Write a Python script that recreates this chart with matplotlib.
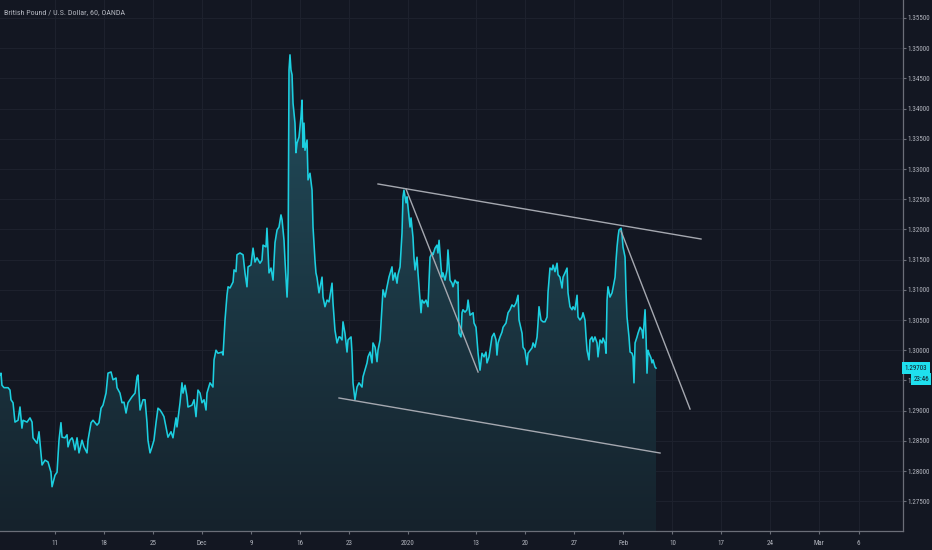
import numpy as np
import matplotlib.pyplot as plt
from matplotlib import font_manager
from matplotlib.colors import LinearSegmentedColormap
from matplotlib.ticker import FormatStrFormatter

# hourly GBPUSD (OANDA) closes
# t = trading days since the first bar on screen (weekends removed)
t = [
    0.00, 0.10, 0.20, 0.41, 0.82, 1.02, 1.12, 1.33, 1.53, 1.84,
    2.04, 2.24, 2.35, 2.76, 3.06, 3.27, 3.37, 3.78, 3.98, 4.18,
    4.29, 4.59, 4.90, 5.20, 5.31, 5.61, 5.82, 6.02, 6.22, 6.33,
    6.63, 6.84, 6.94, 7.14, 7.35, 7.45, 7.65, 7.86, 8.06, 8.37,
    8.57, 8.88, 8.98, 9.29, 9.49, 9.90, 10.10, 10.31, 10.51, 10.82,
    11.02, 11.33, 11.53, 11.84, 11.94, 12.24, 12.45, 12.65, 12.86, 13.06,
    13.47, 13.78, 13.98, 14.08, 14.29, 14.59, 14.80, 15.00, 15.10, 15.31,
    15.51, 15.71, 15.92, 16.12, 16.33, 16.53, 16.73, 16.94, 17.14, 17.45,
    17.65, 17.96, 18.06, 18.37, 18.57, 18.67, 18.88, 19.08, 19.18, 19.59,
    19.80, 20.00, 20.20, 20.41, 20.61, 20.82, 21.02, 21.12, 21.43, 21.73,
    21.84, 22.04, 22.24, 22.65, 22.76, 22.96, 23.16, 23.27, 23.47, 23.78,
    23.88, 24.08, 24.18, 24.49, 24.80, 25.00, 25.20, 25.31, 25.61, 25.82,
    26.02, 26.22, 26.53, 26.73, 26.84, 27.14, 27.24, 27.45, 27.65, 27.86,
    28.06, 28.27, 28.47, 28.67, 28.78, 28.98, 29.08, 29.29, 29.39, 29.49,
    29.59, 29.69, 29.80, 29.90, 30.10, 30.20, 30.31, 30.51, 30.71, 30.82,
    30.92, 31.02, 31.12, 31.33, 31.43, 31.63, 31.84, 31.94, 32.14, 32.24,
    32.35, 32.55, 32.86, 32.96, 33.16, 33.37, 33.57, 33.88, 33.98, 34.18,
    34.39, 34.59, 34.69, 34.90, 35.00, 35.20, 35.41, 35.51, 35.82, 35.92,
    36.02, 36.22, 36.43, 36.63, 36.94, 37.04, 37.24, 37.45, 37.55, 37.76,
    37.96, 38.06, 38.27, 38.47, 38.57, 38.78, 38.98, 39.08, 39.29, 39.49,
    39.69, 40.00, 40.10, 40.31, 40.51, 40.61, 40.82, 41.02, 41.12, 41.22,
    41.43, 41.53, 41.73, 41.84, 41.94, 42.14, 42.24, 42.35, 42.55, 42.65,
    42.86, 42.96, 43.06, 43.27, 43.47, 43.67, 43.88, 44.08, 44.18, 44.39,
    44.59, 44.69, 44.80, 45.00, 45.10, 45.20, 45.41, 45.61, 45.71, 45.92,
    46.12, 46.22, 46.43, 46.63, 46.73, 46.84, 47.04, 47.14, 47.24, 47.45,
    47.65, 47.76, 47.96, 48.27, 48.37, 48.57, 48.78, 48.98, 49.18, 49.39,
    49.59, 49.69, 49.90, 50.20, 50.41, 50.61, 50.71, 50.82, 51.02, 51.22,
    51.33, 51.63, 51.84, 52.04, 52.24, 52.45, 52.65, 52.86, 52.96, 53.27,
    53.37, 53.57, 53.78, 53.88, 54.29, 54.39, 54.59, 54.80, 54.90, 55.00,
    55.20, 55.41, 55.61, 55.82, 55.92, 56.12, 56.33, 56.43, 56.63, 56.84,
    56.94, 57.14, 57.35, 57.45, 57.65, 57.86, 57.96, 58.16, 58.37, 58.47,
    58.67, 58.88, 58.98, 59.18, 59.39, 59.49, 59.69, 59.80, 59.90, 60.10,
    60.20, 60.41, 60.51, 60.71, 60.92, 61.02, 61.22, 61.43, 61.53, 61.73,
    61.84, 61.94, 62.04, 62.24, 62.45, 62.55, 62.76, 62.86, 62.96, 63.06,
    63.16, 63.37, 63.47, 63.57, 63.78, 63.88, 63.98, 64.18, 64.29, 64.49,
    64.59, 64.69, 64.80, 65.00, 65.10, 65.31, 65.51, 65.61, 65.82, 65.92,
    66.02, 66.12, 66.22, 66.43, 66.53, 66.63, 66.84, 66.94,
]

close = [
    1.2959, 1.2962, 1.2942, 1.2938, 1.2938, 1.2934, 1.2918, 1.2913, 1.2881, 1.2884,
    1.2906, 1.2871, 1.2884, 1.2881, 1.2888, 1.2881, 1.2855, 1.2846, 1.2865, 1.2830,
    1.2810, 1.2818, 1.2815, 1.2798, 1.2774, 1.2793, 1.2798, 1.2851, 1.2880, 1.2856,
    1.2855, 1.2860, 1.2840, 1.2851, 1.2855, 1.2851, 1.2835, 1.2855, 1.2830, 1.2851,
    1.2840, 1.2830, 1.2851, 1.2880, 1.2884, 1.2876, 1.2880, 1.2904, 1.2909, 1.2929,
    1.2962, 1.2964, 1.2951, 1.2954, 1.2938, 1.2929, 1.2913, 1.2914, 1.2896, 1.2913,
    1.2923, 1.2929, 1.2956, 1.2959, 1.2901, 1.2918, 1.2918, 1.2880, 1.2851, 1.2830,
    1.2840, 1.2851, 1.2880, 1.2904, 1.2901, 1.2896, 1.2890, 1.2873, 1.2856, 1.2865,
    1.2855, 1.2888, 1.2873, 1.2913, 1.2946, 1.2929, 1.2942, 1.2923, 1.2906, 1.2909,
    1.2918, 1.2890, 1.2934, 1.2929, 1.2913, 1.2918, 1.2901, 1.2929, 1.2946, 1.2939,
    1.2984, 1.3000, 1.2995, 1.2997, 1.2992, 1.3050, 1.3091, 1.3105, 1.3103, 1.3113,
    1.3133, 1.3130, 1.3158, 1.3161, 1.3158, 1.3128, 1.3105, 1.3138, 1.3141, 1.3169,
    1.3146, 1.3153, 1.3144, 1.3149, 1.3174, 1.3171, 1.3202, 1.3128, 1.3136, 1.3116,
    1.3178, 1.3199, 1.3204, 1.3224, 1.3216, 1.3182, 1.3149, 1.3088, 1.3128, 1.3464,
    1.3489, 1.3464, 1.3456, 1.3409, 1.3376, 1.3327, 1.3343, 1.3353, 1.3386, 1.3414,
    1.3336, 1.3376, 1.3331, 1.3348, 1.3282, 1.3293, 1.3265, 1.3204, 1.3149, 1.3128,
    1.3120, 1.3095, 1.3121, 1.3088, 1.3072, 1.3083, 1.3080, 1.3111, 1.3078, 1.3033,
    1.3012, 1.3022, 1.3022, 1.3017, 1.3047, 1.3028, 1.2997, 1.3017, 1.3022, 1.2995,
    1.2946, 1.2918, 1.2939, 1.2946, 1.2939, 1.2956, 1.2967, 1.2979, 1.2989, 1.2997,
    1.2979, 1.3012, 1.3005, 1.2981, 1.3000, 1.3017, 1.3072, 1.3100, 1.3088, 1.3105,
    1.3121, 1.3138, 1.3116, 1.3128, 1.3111, 1.3125, 1.3138, 1.3194, 1.3254, 1.3265,
    1.3244, 1.3254, 1.3221, 1.3204, 1.3219, 1.3187, 1.3154, 1.3133, 1.3154, 1.3128,
    1.3083, 1.3062, 1.3083, 1.3078, 1.3083, 1.3072, 1.3154, 1.3161, 1.3158, 1.3169,
    1.3174, 1.3161, 1.3182, 1.3138, 1.3121, 1.3128, 1.3116, 1.3133, 1.3166, 1.3116,
    1.3111, 1.3105, 1.3116, 1.3111, 1.3113, 1.3028, 1.3022, 1.3062, 1.3067, 1.3063,
    1.3067, 1.3083, 1.3058, 1.3062, 1.3045, 1.3038, 1.2995, 1.2967, 1.2995, 1.2989,
    1.2997, 1.2979, 1.2989, 1.3022, 1.3028, 1.3017, 1.2992, 1.3012, 1.3022, 1.3030,
    1.3038, 1.3045, 1.3062, 1.3067, 1.3075, 1.3072, 1.3078, 1.3091, 1.3050, 1.3028,
    1.3005, 1.3000, 1.2976, 1.2995, 1.3004, 1.3012, 1.3005, 1.3022, 1.3045, 1.3072,
    1.3050, 1.3047, 1.3047, 1.3055, 1.3096, 1.3136, 1.3133, 1.3141, 1.3130, 1.3144,
    1.3125, 1.3121, 1.3103, 1.3121, 1.3128, 1.3136, 1.3095, 1.3072, 1.3067, 1.3072,
    1.3067, 1.3091, 1.3055, 1.3050, 1.3055, 1.3062, 1.3050, 1.3022, 1.3000, 1.2984,
    1.3017, 1.3022, 1.3014, 1.3022, 1.3012, 1.2989, 1.3017, 1.3012, 1.3020, 1.3012,
    1.2995, 1.3083, 1.3105, 1.3088, 1.3095, 1.3103, 1.3121, 1.3149, 1.3171, 1.3187,
    1.3199, 1.3202, 1.3191, 1.3171, 1.3154, 1.3095, 1.3055, 1.3022, 1.2997, 1.2995,
    1.2989, 1.2946, 1.3012, 1.3022, 1.3028, 1.3038, 1.3033, 1.3020, 1.3067, 1.3022,
    1.2962, 1.3000, 1.2995, 1.2987, 1.2979, 1.2984, 1.2972, 1.29703,
]

# date axis: trading-day offsets from Mon 11 Nov 2019
first_tick_day = 5.61
tick_days = [0, 5, 10, 15, 20, 25, 30, 36, 43, 48, 53, 58, 63, 68, 73, 78, 82]
tick_labels = ["11", "18", "25", "Dec", "9", "16", "23", "2020", "13", "20",
               "27", "Feb", "10", "17", "24", "Mar", "6"]

price_ticks = [1.275, 1.280, 1.285, 1.290, 1.295, 1.300, 1.305, 1.310, 1.315,
               1.320, 1.325, 1.330, 1.335, 1.340, 1.345, 1.350, 1.355]

# drawn trend lines: ((t0, p0), (t1, p1))
trend_lines = [
    ((38.57, 1.32752), (71.53, 1.31841)),
    ((34.59, 1.29209), (67.35, 1.28298)),
    ((41.43, 1.32669), (48.78, 1.29639)),
    ((63.37, 1.31973), (70.41, 1.29026)),
]

last_price = close[-1]
countdown = "23:46"
countdown_level = 1.2952

BG = "#131722"
LINE = "#1ccfe0"
TXT = "#b2b5be"

# narrow face if one is there, else plain Liberation Sans a bit smaller
installed = {f.name for f in font_manager.fontManager.ttflist}
if "Liberation Sans Narrow" in installed:
    FONT, FS, TITLE_FS = "Liberation Sans Narrow", 5.2, 6.0
elif "Roboto Condensed" in installed:
    FONT, FS, TITLE_FS = "Roboto Condensed", 5.0, 5.8
else:
    FONT, FS, TITLE_FS = "Liberation Sans", 4.5, 5.2

plt.rcParams["font.family"] = [FONT, "DejaVu Sans"]

fig = plt.figure(figsize=(9.32, 5.5), dpi=100, facecolor=BG)
ax = fig.add_axes([0, 19 / 550, 903 / 932, 531 / 550])
ax.set_facecolor(BG)

t_arr = np.array(t)
c_arr = np.array(close)

ymin, ymax = 1.27007, 1.35798
ax.set_xlim(0, 92.14)
ax.set_ylim(ymin, ymax)

# gradient area under the line
fill = ax.fill_between(t_arr, c_arr, ymin, color="none", lw=0)
grad = np.linspace(0, 1, 256).reshape(-1, 1)
cmap = LinearSegmentedColormap.from_list("area", ["#15222c", "#224d5c"])
im = ax.imshow(grad, cmap=cmap, aspect="auto", origin="lower",
               extent=[t_arr[0], t_arr[-1], ymin, c_arr.max()], zorder=1)
im.set_clip_path(fill.get_paths()[0], transform=ax.transData)

ax.plot(t_arr, c_arr, color=LINE, lw=1.15, zorder=3)

for (x0, y0), (x1, y1) in trend_lines:
    ax.plot([x0, x1], [y0, y1], color="#a5a8b0", lw=1.0, zorder=4)

# axes / grid
xt = [first_tick_day + d for d in tick_days]
ax.set_xticks(xt)
ax.set_xticklabels(tick_labels)
ax.set_yticks(price_ticks)
ax.yaxis.set_major_formatter(FormatStrFormatter("%.5f"))
ax.yaxis.tick_right()
ax.grid(True, color="#1d212d", lw=0.8, zorder=0)
ax.set_axisbelow(True)

for side in ["top", "left"]:
    ax.spines[side].set_visible(False)
for side in ["right", "bottom"]:
    ax.spines[side].set_color("#6b6e78")
    ax.spines[side].set_linewidth(0.9)

ax.tick_params(axis="both", colors="#6b6e78", labelcolor=TXT,
               labelsize=FS, length=2.2, width=0.8)
ax.tick_params(axis="x", pad=4.5)
ax.tick_params(axis="y", pad=1.2)

# last price + countdown boxes
ytr = ax.get_yaxis_transform()
ax.text(1.0015, last_price, f"{last_price:.5f}", transform=ytr,
        ha="left", va="center", fontsize=FS, color=BG, clip_on=False,
        zorder=6,
        bbox=dict(boxstyle="square,pad=0.4", fc="#1fe0ee", ec="none"))
ax.text(1.0115, countdown_level, countdown, transform=ytr,
        ha="left", va="center", fontsize=FS, color=BG, clip_on=False,
        zorder=6,
        bbox=dict(boxstyle="square,pad=0.35", fc="#1fe0ee", ec="none"))

fig.text(4 / 932, 1 - 12 / 550, "British Pound / U.S. Dollar, 60, OANDA",
         color=TXT, fontsize=TITLE_FS, va="center", ha="left")

fig.savefig("out.png", dpi=100, facecolor=BG)
